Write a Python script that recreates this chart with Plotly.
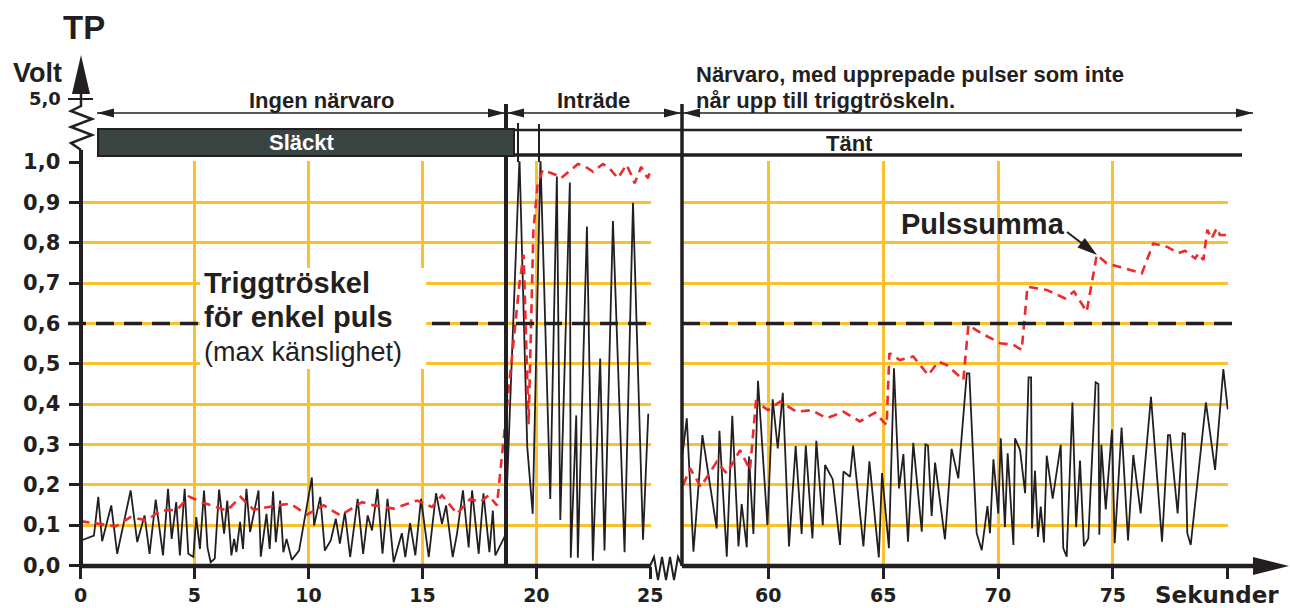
import plotly.graph_objects as go

# ---------------- data ----------------
# TP signal, left panel (0-25 s): "Ingen närvaro" + "Inträde"
signal_a_t = [0.03, 0.59, 0.78, 0.95, 1.35, 1.61, 2.20, 2.49, 2.81, 3.03,
              3.30, 3.62, 3.84, 4.00, 4.20, 4.36, 4.57, 4.73, 4.95, 5.08,
              5.24, 5.42, 5.57, 5.71, 5.89, 6.08, 6.30, 6.44, 6.62, 6.74,
              6.84, 7.00, 7.13, 7.28, 7.44, 7.81, 7.91, 8.16, 8.30, 8.45,
              8.57, 8.76, 8.90, 9.04, 9.27, 9.59, 10.15, 10.25, 10.52, 10.72,
              10.98, 11.20, 11.38, 11.60, 11.83, 12.16, 12.40, 12.60, 12.79, 13.03,
              13.25, 13.47, 13.74, 14.10, 14.25, 14.46, 14.69, 14.94, 15.28, 15.60,
              15.86, 16.04, 16.33, 16.52, 16.78, 17.03, 17.18, 17.47, 17.68, 17.94,
              18.09, 18.20, 18.63, 19.26, 19.60, 19.84, 20.18, 20.61, 20.90, 21.05,
              21.47, 21.51, 21.75, 21.82, 22.22, 22.48, 22.80, 22.99, 23.36, 23.87,
              24.24, 24.68, 24.91]
signal_a_v = [0.062, 0.074, 0.170, 0.060, 0.149, 0.029, 0.186, 0.058, 0.124, 0.029,
              0.163, 0.025, 0.190, 0.066, 0.157, 0.025, 0.190, 0.029, 0.021, 0.120,
              0.041, 0.186, 0.045, 0.008, 0.017, 0.188, 0.079, 0.161, 0.025, 0.066,
              0.033, 0.108, 0.041, 0.190, 0.083, 0.186, 0.022, 0.128, 0.041, 0.184,
              0.058, 0.161, 0.033, 0.066, 0.014, 0.037, 0.218, 0.099, 0.170, 0.037,
              0.062, 0.116, 0.054, 0.132, 0.021, 0.165, 0.029, 0.124, 0.087, 0.190,
              0.029, 0.165, 0.008, 0.080, 0.021, 0.105, 0.025, 0.165, 0.021, 0.179,
              0.103, 0.149, 0.021, 0.079, 0.186, 0.045, 0.186, 0.029, 0.179, 0.033,
              0.136, 0.025, 0.074, 1.010, 0.294, 0.128, 1.010, 0.165, 0.964, 0.113,
              0.949, 0.019, 0.372, 0.019, 0.840, 0.012, 0.513, 0.037, 0.854, 0.033,
              0.899, 0.064, 0.376]

# Pulssumma, left panel
sum_a_t = [0.0, 0.88, 1.54, 2.19, 2.92, 3.50, 4.24, 4.75, 5.41, 6.43,
           7.02, 7.60, 8.63, 9.21, 9.94, 10.67, 11.40, 12.35, 12.87, 13.74,
           14.77, 15.42, 15.86, 16.52, 17.10, 17.54, 17.90, 18.27, 18.60, 18.89,
           19.26, 19.44, 19.66, 19.87, 20.06, 20.28, 20.87, 21.09, 21.82, 22.11,
           22.48, 22.92, 23.21, 23.58, 23.95, 24.17, 24.31, 24.60, 24.75, 24.90,
           25.0]
sum_a_v = [0.110, 0.102, 0.097, 0.120, 0.112, 0.136, 0.138, 0.171, 0.155, 0.136,
           0.170, 0.138, 0.149, 0.153, 0.126, 0.149, 0.124, 0.157, 0.149, 0.141,
           0.161, 0.145, 0.174, 0.128, 0.165, 0.157, 0.174, 0.149, 0.327, 0.500,
           0.700, 0.770, 0.350, 0.830, 0.947, 0.980, 0.968, 0.960, 0.995, 0.990,
           0.976, 0.995, 0.984, 0.960, 0.993, 0.968, 0.947, 0.988, 0.971, 0.960,
           0.980]

# TP signal, right panel (56-80 s): "Närvaro"
signal_b_t = [56.27, 56.45, 56.74, 57.13, 57.75, 57.87, 58.19, 58.43, 58.70, 58.84,
              59.06, 59.16, 59.35, 59.55, 59.96, 60.19, 60.41, 60.63, 60.90, 61.19,
              61.45, 61.63, 61.92, 62.09, 62.37, 62.47, 62.80, 63.12, 63.27, 63.56,
              63.69, 64.14, 64.40, 64.81, 64.95, 65.25, 65.47, 65.69, 65.88, 66.08,
              66.31, 66.68, 66.84, 66.95, 67.11, 67.26, 67.69, 67.98, 68.27, 68.64,
              68.75, 69.07, 69.29, 69.54, 69.65, 69.80, 70.01, 70.12, 70.30, 70.42,
              70.67, 70.74, 70.96, 71.18, 71.33, 71.44, 71.48, 71.61, 71.74, 71.86,
              72.00, 72.12, 72.38, 72.73, 72.84, 72.99, 73.24, 73.40, 73.57, 73.74,
              73.93, 74.25, 74.37, 74.41, 74.50, 74.69, 74.96, 75.08, 75.38, 75.66,
              75.89, 76.21, 76.66, 77.14, 77.40, 77.49, 77.82, 78.04, 78.14, 78.24,
              78.39, 79.05, 79.45, 79.81, 80.0]
signal_b_v = [0.278, 0.365, 0.034, 0.323, 0.092, 0.334, 0.022, 0.371, 0.047, 0.152,
              0.045, 0.270, 0.078, 0.458, 0.100, 0.412, 0.290, 0.428, 0.047, 0.296,
              0.078, 0.297, 0.067, 0.309, 0.100, 0.249, 0.214, 0.051, 0.233, 0.220,
              0.297, 0.047, 0.258, 0.020, 0.229, 0.043, 0.489, 0.191, 0.276, 0.059,
              0.304, 0.084, 0.300, 0.297, 0.123, 0.255, 0.065, 0.289, 0.216, 0.476,
              0.476, 0.080, 0.038, 0.147, 0.080, 0.263, 0.129, 0.315, 0.095, 0.278,
              0.051, 0.315, 0.286, 0.179, 0.466, 0.466, 0.092, 0.235, 0.071, 0.146,
              0.057, 0.272, 0.166, 0.299, 0.043, 0.022, 0.404, 0.095, 0.260, 0.048,
              0.067, 0.454, 0.450, 0.076, 0.299, 0.139, 0.337, 0.055, 0.342, 0.062,
              0.274, 0.129, 0.418, 0.059, 0.323, 0.323, 0.129, 0.328, 0.326, 0.080,
              0.051, 0.404, 0.237, 0.487, 0.387]

# Pulssumma, right panel
sum_b_t = [56.30, 56.59, 57.06, 57.75, 58.19, 58.77, 59.20, 59.46, 59.99, 60.51,
           61.23, 61.89, 62.54, 63.27, 63.99, 64.65, 65.15, 65.27, 65.73, 66.31,
           66.96, 67.40, 67.76, 68.27, 68.49, 68.71, 69.29, 70.09, 70.67, 71.03,
           71.28, 72.12, 72.92, 73.31, 73.60, 73.86, 74.30, 74.73, 75.30, 76.26,
           76.76, 77.35, 77.85, 78.14, 78.58, 78.72, 78.94, 79.11, 79.30, 79.52,
           79.66, 80.0]
sum_b_v = [0.200, 0.241, 0.195, 0.257, 0.228, 0.286, 0.237, 0.406, 0.385, 0.406,
           0.381, 0.385, 0.365, 0.381, 0.357, 0.379, 0.348, 0.526, 0.509, 0.518,
           0.472, 0.505, 0.497, 0.470, 0.460, 0.596, 0.575, 0.551, 0.547, 0.534,
           0.691, 0.683, 0.662, 0.679, 0.654, 0.629, 0.770, 0.749, 0.740, 0.724,
           0.798, 0.790, 0.774, 0.780, 0.761, 0.773, 0.757, 0.832, 0.810, 0.836,
           0.819, 0.819]

threshold = 0.6

y_ticks = [0.0, 0.1, 0.2, 0.3, 0.4, 0.5, 0.6, 0.7, 0.8, 0.9, 1.0]
y_ticktext = ["0,0", "0,1", "0,2", "0,3", "0,4", "0,5", "0,6", "0,7", "0,8", "0,9", "1,0"]
x_ticks_a = [0, 5, 10, 15, 20, 25]
x_ticktext_a = ["0", "5", "10", "15", "20", "25"]
x_ticks_b = [60, 65, 70, 75, 80]
x_ticktext_b = ["60", "65", "70", "75", ""]

for a, b in [(signal_a_t, signal_a_v), (sum_a_t, sum_a_v), (signal_b_t, signal_b_v), (sum_b_t, sum_b_v)]:
    assert len(a) == len(b), (len(a), len(b))

# ---------------- styling ----------------
W, H = 1290, 608
INK = "#231f20"
GRID = "#fbc12d"
RED = "#ed2a2d"
BOX = "#3a4442"
SANS = "Liberation Sans, Arial, sans-serif"
WIDE = "DejaVu Sans, sans-serif"


def fx(px):
    return px / W


def fy(py):
    return 1 - py / H


shapes = []


def seg(x0, y0, x1, y1, w=2, color=INK):
    shapes.append(dict(type="line", xref="paper", yref="paper",
                       x0=fx(x0), y0=fy(y0), x1=fx(x1), y1=fy(y1),
                       line=dict(color=color, width=w)))


def poly(points, fill=INK, close=True, w=0, color=INK):
    d = "M " + " L ".join(f"{fx(x):.5f},{fy(y):.5f}" for x, y in points)
    if close:
        d += " Z"
    shapes.append(dict(type="path", xref="paper", yref="paper", path=d,
                       fillcolor=fill if close else "rgba(0,0,0,0)",
                       line=dict(color=color, width=w)))


def tri(tipx, tipy, direction, length=17, half=4.5):
    s = 1 if direction == "left" else -1
    poly([(tipx, tipy), (tipx + s * length, tipy - half), (tipx + s * length, tipy + half)])


# threshold dashes (data y)
for x0, x1 in [(68, 650), (682, 1233)]:
    shapes.append(dict(type="line", xref="paper", yref="y", x0=fx(x0), x1=fx(x1),
                       y0=threshold, y1=threshold,
                       line=dict(color=INK, width=3.5, dash="18px,10px")))

# white box behind the threshold label
shapes.append(dict(type="rect", xref="paper", yref="paper", x0=fx(200), x1=fx(426),
                   y0=fy(268), y1=fy(369), fillcolor="white", line=dict(width=0)))

# y axis with break and arrow
seg(81, 568, 81, 150, w=4)
poly([(81, 150), (71, 143), (92, 135), (71, 127), (92, 119), (71, 111), (81, 106), (81, 90)],
     close=False, w=2.5)
poly([(81, 55), (72, 94), (90, 94)])
seg(68, 99, 93, 99, w=2)

# x axis with break and arrow
seg(79, 566, 651, 566, w=4.5)
poly([(650, 566), (654, 557), (658, 580), (662, 557), (666, 580), (670, 557), (674, 580),
      (678, 557), (682, 566)], close=False, w=2)
seg(682, 566, 1258, 566, w=4.5)
poly([(1289, 566), (1253, 557), (1253, 575)])

# phase separators
seg(506, 104, 506, 566, w=4)
seg(682, 104, 682, 566, w=3.5)
seg(518, 123, 518, 162, w=2)
seg(539, 124, 539, 162, w=2)

# lamp state bars
shapes.append(dict(type="rect", xref="paper", yref="paper", x0=fx(98), x1=fx(514),
                   y0=fy(156), y1=fy(129), fillcolor=BOX, line=dict(color=INK, width=2)))
seg(514, 130, 1242, 130, w=2.5)
seg(514, 155, 1242, 155, w=3.5)

# phase arrows
seg(97, 113, 506, 113, w=1.5)
tri(97, 113, "left")
tri(505, 113, "right")
seg(506, 113, 682, 113, w=1.5)
tri(507, 113, "left")
tri(681, 113, "right")
seg(682, 113, 1253, 113, w=1.5)
tri(683, 113, "left")
tri(1253, 113, "right")

# Pulssumma pointer
seg(1067, 232, 1084, 245, w=2)
poly([(1097, 255), (1077.5, 247.6), (1084.8, 238.0)])

annotations = []


def text(s, x, y, size, xanchor="center", family=SANS, weight="bold", color=INK):
    annotations.append(dict(text=s, x=fx(x), y=fy(y), xref="paper", yref="paper",
                            xanchor=xanchor, yanchor="middle", showarrow=False,
                            font=dict(family=family, size=size, color=color, weight=weight)))


text("TP", 84, 27, 33)
text("Volt", 37, 73, 27)
text("5,0", 63, 99, 18, xanchor="right", family=WIDE)
text("Ingen närvaro", 321, 100, 22)
text("Inträde", 593, 100, 22)
text("Närvaro, med upprepade pulser som inte", 694, 74, 22, xanchor="left")
text("når upp till triggtröskeln.", 694, 100, 22, xanchor="left")
text("Släckt", 301, 142, 22, color="white")
text("Tänt", 850, 143, 22)
text("Triggtröskel", 202, 283, 29, xanchor="left")
text("för enkel puls", 202, 317, 29, xanchor="left")
text("(max känslighet)", 202, 352, 27, xanchor="left", weight="normal")
text("Pulssumma", 983, 224, 29)
text("Sekunder", 1217, 595, 23, family=WIDE)

ytickfont = dict(family=WIDE, size=21, color=INK, weight="bold")
xtickfont = dict(family=WIDE, size=19, color=INK, weight="bold")

fig = go.Figure()
fig.add_trace(go.Scatter(x=signal_a_t, y=signal_a_v, xaxis="x", yaxis="y", mode="lines",
                         line=dict(color=INK, width=1.8), name="TP"))
fig.add_trace(go.Scatter(x=sum_a_t, y=sum_a_v, xaxis="x", yaxis="y", mode="lines",
                         line=dict(color=RED, width=2.6, dash="9px,6px"), name="Pulssumma"))
fig.add_trace(go.Scatter(x=signal_b_t, y=signal_b_v, xaxis="x2", yaxis="y", mode="lines",
                         line=dict(color=INK, width=1.8), name="TP"))
fig.add_trace(go.Scatter(x=sum_b_t, y=sum_b_v, xaxis="x2", yaxis="y", mode="lines",
                         line=dict(color=RED, width=2.6, dash="9px,6px"), name="Pulssumma"))

common_x = dict(showgrid=True, gridcolor=GRID, gridwidth=2.5, zeroline=False, showline=False,
                ticks="outside", ticklen=12, tickwidth=2.5, tickcolor=INK, tickfont=xtickfont,
                ticklabelstandoff=0, anchor="y", automargin=False, fixedrange=True)
overlay_x = dict(showgrid=False, zeroline=False, showline=False, ticks="inside", ticklen=9,
                 tickwidth=2.5, tickcolor=INK, showticklabels=False, anchor="y",
                 automargin=False, fixedrange=True)

fig.update_layout(
    width=W, height=H,
    margin=dict(l=0, r=0, t=0, b=0),
    paper_bgcolor="white", plot_bgcolor="white",
    showlegend=False,
    xaxis=dict(domain=[fx(80.5), fx(651)], range=[0, 25.03], tickvals=x_ticks_a,
               ticktext=x_ticktext_a, **common_x),
    xaxis2=dict(domain=[fx(682.2), fx(1228.4)], range=[56.25, 80.03], tickvals=x_ticks_b,
                ticktext=x_ticktext_b, **common_x),
    xaxis3=dict(overlaying="x", range=[0, 25.03], tickvals=[5, 10, 15, 20], **overlay_x),
    xaxis4=dict(overlaying="x2", range=[56.25, 80.03], tickvals=x_ticks_b, **overlay_x),
    yaxis=dict(domain=[fy(566.3), fy(161.2)], range=[-0.002, 1.002], tickvals=y_ticks,
               ticktext=y_ticktext, showgrid=True, gridcolor=GRID, gridwidth=2.5,
               zeroline=False, showline=False, ticks="outside", ticklen=11, tickwidth=2.5,
               tickcolor=INK, tickfont=ytickfont, ticklabelstandoff=4, anchor="x",
               automargin=False, fixedrange=True),
    yaxis2=dict(overlaying="y", range=[-0.002, 1.002], tickvals=y_ticks[1:], anchor="x",
                side="left", showgrid=False, zeroline=False, showline=False, ticks="inside",
                ticklen=11, tickwidth=2.5, tickcolor=INK, showticklabels=False,
                automargin=False, fixedrange=True),
    shapes=shapes,
    annotations=annotations,
)

fig.write_html(
    "out.html",
    config={"displayModeBar": False},
    post_script="document.body.style.margin='0px';document.body.style.overflow='hidden';",
)
